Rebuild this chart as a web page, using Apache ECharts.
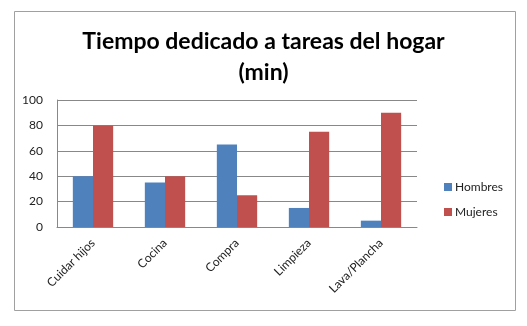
<!DOCTYPE html>
<html><head><meta charset="utf-8">
<script src="https://cdn.jsdelivr.net/npm/echarts@6/dist/echarts.min.js"></script>
<style>html,body{margin:0;padding:0;background:#fff}#c{width:527px;height:326px}</style>
</head><body><div id="c"></div>
<script>
const categories = ['Cuidar hijos', 'Cocina', 'Compra', 'Limpieza', 'Lava/Plancha'];
const hombres = [40, 35, 65, 15, 5];
const mujeres = [80, 40, 25, 75, 90];
const yTicks = [0, 20, 40, 60, 80, 100];
const titleText = 'Tiempo dedicado a tareas del hogar\n(min)';

const chart = echarts.init(document.getElementById('c'));
const F = 'Lato, "Liberation Sans", sans-serif';
chart.setOption({
  animation: false,
  graphic: [{type: 'rect', shape: {x: 14.5, y: 11.5, width: 501, height: 299}, style: {fill: 'none', stroke: '#a0a0a0', lineWidth: 1}, z: -1}],
  title: {text: titleText, left: 'center', top: 21, textStyle: {fontFamily: F, fontWeight: 'bold', fontSize: 23, color: '#000', lineHeight: 31}},
  grid: {left: 57, right: 110, top: 100, bottom: 99, containLabel: false},
  legend: {orient: 'vertical', left: 439, top: 176, itemWidth: 8, itemHeight: 8, itemGap: 13, icon: 'rect',
    textStyle: {fontFamily: F, fontSize: 12, color: '#222', padding: [0,0,0,-2]}, data: ['Hombres', 'Mujeres']},
  xAxis: {type: 'category', data: categories,
    axisLine: {lineStyle: {color: '#888'}}, axisTick: {show: false},
    axisLabel: {rotate: 45, interval: 0, fontFamily: F, fontSize: 12, color: '#222', margin: 14}},
  yAxis: {type: 'value', min: 0, max: 100, interval: 20,
    axisLine: {show: true, lineStyle: {color: '#888'}}, axisTick: {show: false},
    splitLine: {lineStyle: {color: '#888'}},
    axisLabel: {fontFamily: F, fontSize: 12, color: '#222', margin: 14,
      formatter: v => yTicks.includes(v) ? String(v) : ''}},
  series: [
    {name: 'Hombres', type: 'bar', data: hombres, barGap: '0%', barCategoryGap: '44%', itemStyle: {color: '#4F81BD'}},
    {name: 'Mujeres', type: 'bar', data: mujeres, itemStyle: {color: '#C0504D'}}
  ]
});
</script></body></html>
